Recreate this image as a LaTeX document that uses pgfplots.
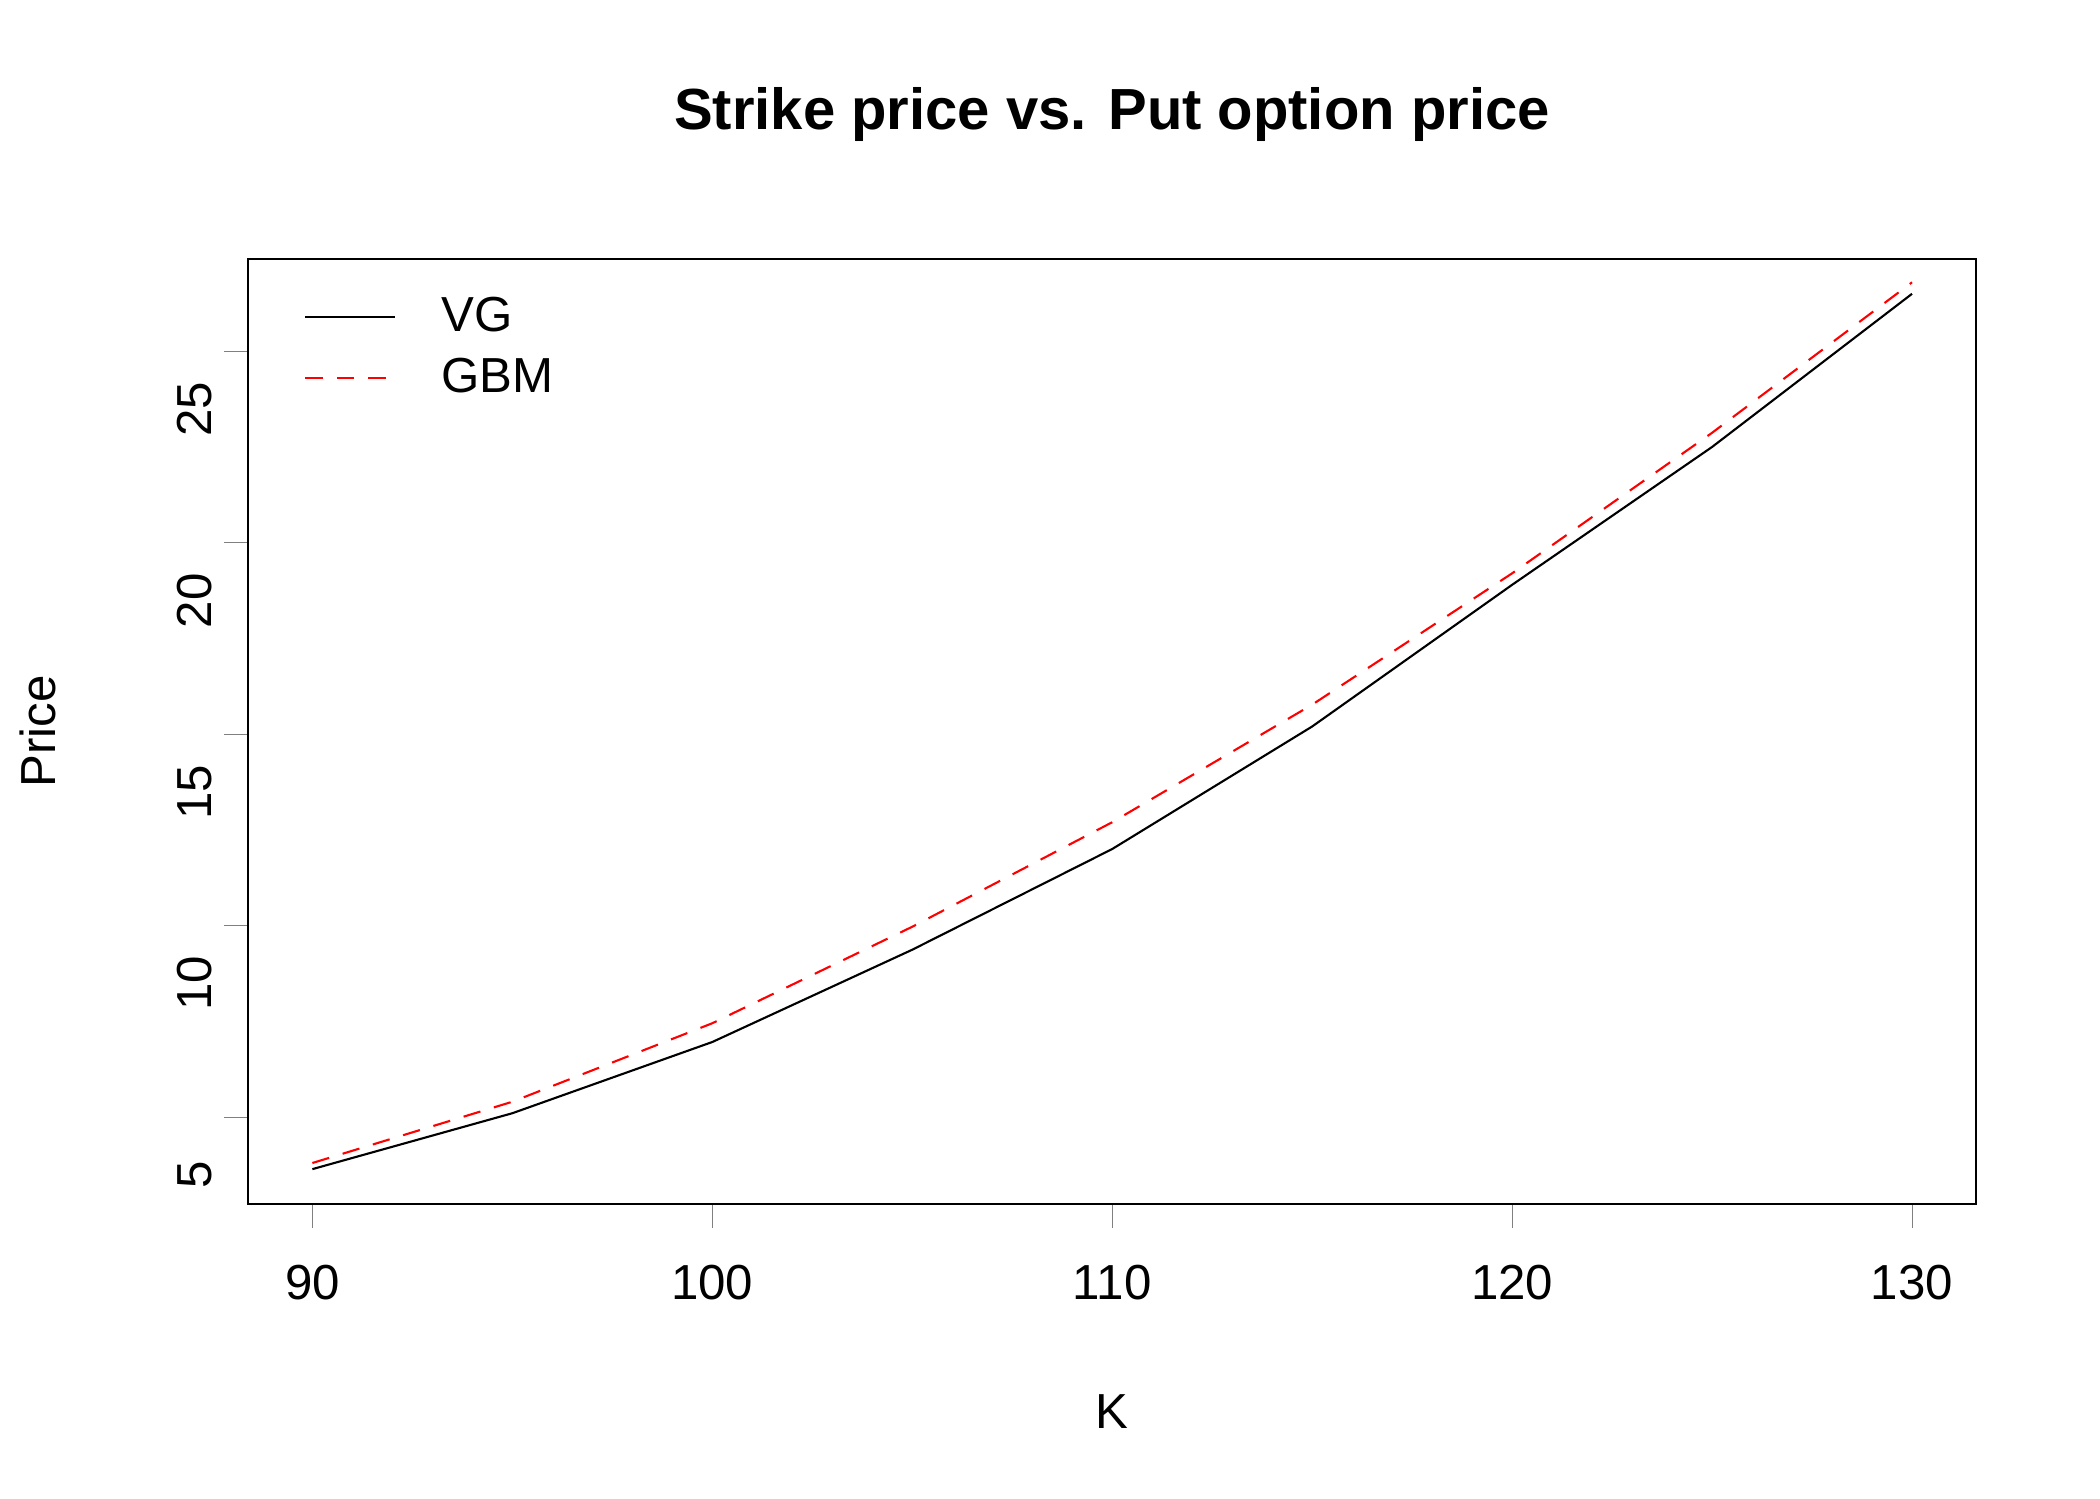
\documentclass[border=0pt]{standalone}
\usepackage{pgfplots}
\pgfplotsset{compat=1.18}
\usepackage{fontspec}
\setmainfont{Liberation Sans}
\begin{document}
\begin{tikzpicture}
\path[use as bounding box] (-2.48,-2.95) rectangle (18.52,12.04);
\begin{axis}[at={(0,0)},anchor=south west,scale only axis,width=17.28cm,height=9.45cm,
 xmin=88.39,xmax=131.6,ymin=2.73,ymax=27.41,
 xtick={90,100,...,130},ytick={5,10,...,25},
 tick align=outside,major tick length=0.24cm,
 xtick pos=bottom,ytick pos=left,
 /pgf/number format/assume math mode=true,
 tick label style={font=\fontsize{14}{16}\selectfont},
 xticklabel style={yshift=-0.25cm},
 yticklabel style={rotate=90,anchor=south,xshift=-0.58cm},
 xlabel={K},ylabel={Price},
 label style={font=\fontsize{14}{16}\selectfont},
 xlabel style={at={(0.5,0)},anchor=center,yshift=-2.08cm},
 ylabel style={at={(0,0.5)},anchor=center,yshift=2.1cm},
 title={\textbf{Strike price vs. Put option price}},
 title style={font=\fontsize{16.5}{19}\selectfont,at={(0.5,1)},anchor=center,yshift=1.23cm},
 legend style={draw=none,fill=none,at={(0.026,0.975)},anchor=north west,font=\fontsize{14}{16}\selectfont,row sep=2pt,nodes={inner xsep=0.45cm}},
 legend image code/.code={\draw[#1] (0cm,0cm) -- (0.9cm,0cm);},
 legend cell align=left,
]
\addplot[black,line width=0.6pt] coordinates {(90,3.64)(95,5.1)(100,6.96)(105,9.37)(110,12.0)(115,15.2)(120,18.9)(125,22.5)(130,26.5)};
\addlegendentry{VG}
\addplot[red,line width=0.6pt,dash pattern=on 5pt off 4pt] coordinates {(90,3.8)(95,5.4)(100,7.45)(105,9.97)(110,12.7)(115,15.77)(120,19.2)(125,22.87)(130,26.8)};
\addlegendentry{GBM}
\end{axis}
\end{tikzpicture}
\end{document}
